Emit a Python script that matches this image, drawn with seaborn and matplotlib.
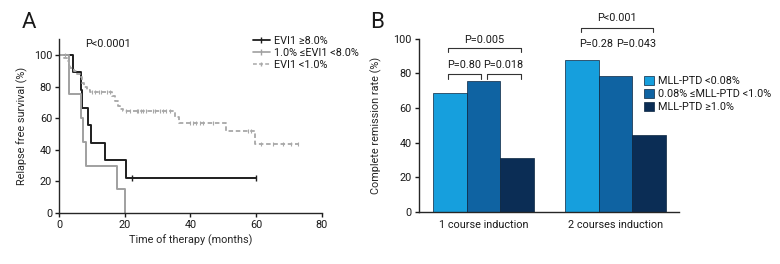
"""
EVI1 무재발 생존 곡선과 MLL-PTD 관해율 막대그래프
"""

import numpy as np
import pandas as pd
import matplotlib
matplotlib.use('Agg')
import matplotlib.pyplot as plt
from matplotlib.lines import Line2D
import seaborn as sns

sns.set_style('ticks')
plt.rcParams['font.family'] = ['Roboto', 'DejaVu Sans']
plt.rcParams['axes.linewidth'] = 1.0
plt.rcParams['text.color'] = '#1a1a1a'
plt.rcParams['xtick.color'] = '#1a1a1a'
plt.rcParams['ytick.color'] = '#1a1a1a'

# Panel A: Kaplan-Meier step data (months, %)
high_t = [0, 4.4, 6.8, 7.1, 8.9, 9.9, 13.9, 20.5, 60]
high_s = [100, 88.9, 77.8, 66.7, 55.6, 44.4, 33.3, 22.2, 22.2]
high_cens_t = [22.1, 60]
high_cens_s = [22.2, 22.2]

mid_t = [0, 3.2, 6.8, 7.4, 8.1, 17.7, 20.2]
mid_s = [100, 75, 60, 45, 30, 15, 0]

low_t = [0, 1.5, 2.5, 3.0, 3.5, 4.5, 5.5, 6.5, 7.0, 7.5, 8.5, 9.5, 16.2, 17.0,
         17.9, 18.7, 19.5, 35.2, 36.6, 50.9, 59.8, 73.0]
low_s = [100, 98, 96, 94, 92, 90, 88, 86, 82, 80, 78, 76.8, 74, 71,
         67.8, 65.9, 64.4, 61, 56.8, 51.6, 43.8, 43.8]
low_cens_t = [1.8, 10.1, 11.1, 12.3, 12.9, 14.7, 15.5, 20.5, 21.5, 23.6, 24.1, 25.1,
              25.6, 26.6, 28.7, 29.2, 30.7, 31.7, 32.7, 33.8, 39.8, 40.8, 41.8,
              42.8, 43.8, 46.9, 57.5, 58.5, 61.6, 65.1, 68.2, 70.7, 72.9]
low_cens_s = [100, 76.8, 76.8, 76.8, 76.8, 76.8, 76.8, 64.4, 64.4, 64.4, 64.4, 64.4,
              64.4, 64.4, 64.4, 64.4, 64.4, 64.4, 64.4, 64.4, 56.8, 56.8, 56.8,
              56.8, 56.8, 56.8, 51.6, 51.6, 43.8, 43.8, 43.8, 43.8, 43.8]

km_labels = ['EVI1 ≥8.0%', '1.0% ≤EVI1 <8.0%', 'EVI1 <1.0%']

# Panel B: complete remission rate (%)
courses = ['1 course induction', '2 courses induction']
ptd_levels = ['MLL-PTD <0.08%', '0.08% ≤MLL-PTD <1.0%', 'MLL-PTD ≥1.0%']
cr_low = [68.5, 87.9]
cr_mid = [75.4, 78.8]
cr_high = [31.2, 44.6]

bar_colors = ['#169fdd', '#0f63a2', '#0b2d55']

fig = plt.figure(figsize=(7.8, 2.64), dpi=100)
axA = fig.add_axes([0.0756, 0.193, 0.337, 0.659])
axB = fig.add_axes([0.537, 0.197, 0.3335, 0.656])

FS = 7.8

# ---------- Panel A ----------
sns.lineplot(x=high_t, y=high_s, drawstyle='steps-post', estimator=None,
             color='#1e1e1e', lw=1.4, ax=axA)
sns.lineplot(x=mid_t, y=mid_s, drawstyle='steps-post', estimator=None,
             color='#a0a0a0', lw=1.4, ax=axA)
sns.lineplot(x=low_t, y=low_s, drawstyle='steps-post', estimator=None,
             color='#a8a8a8', lw=1.3, ax=axA)
axA.lines[-1].set_dashes([2.5, 1.5])
axA.plot(high_cens_t, high_cens_s, ls='none', marker='|', ms=4, mew=1.0, color='#1e1e1e')
axA.plot(low_cens_t, low_cens_s, ls='none', marker='|', ms=3, mew=0.8, color='#a8a8a8')

axA.set_xlim(0, 80)
axA.set_ylim(0, 110)
axA.set_xticks([0, 20, 40, 60, 80])
axA.set_yticks([0, 20, 40, 60, 80, 100])
axA.tick_params(labelsize=FS, length=3, width=1, pad=2)
axA.set_xlabel('Time of therapy (months)', fontsize=FS, labelpad=3)
axA.set_ylabel('Relapse free survival (%)', fontsize=FS, labelpad=4)
axA.text(7.9, 107, 'P<0.0001', fontsize=FS, va='center', ha='left')
sns.despine(ax=axA)

handles = [
    Line2D([], [], color='#1e1e1e', lw=1.3, marker='|', ms=4),
    Line2D([], [], color='#a0a0a0', lw=1.2, marker='|', ms=4),
    Line2D([], [], color='#a8a8a8', lw=1.1, ls=(0, (2.5, 1.5)), marker='|', ms=3),
]
axA.legend(handles, km_labels, fontsize=FS, frameon=False, loc='upper left',
           bbox_to_anchor=(0.72, 1.045), handlelength=1.6, handletextpad=0.4,
           labelspacing=0.2, borderaxespad=0)

# ---------- Panel B ----------
df = pd.DataFrame({
    'course': courses * 3,
    'level': [ptd_levels[0]] * 2 + [ptd_levels[1]] * 2 + [ptd_levels[2]] * 2,
    'rate': cr_low + cr_mid + cr_high,
})
sns.barplot(data=df, x='course', y='rate', hue='level', hue_order=ptd_levels,
            order=courses, palette=bar_colors, width=0.76, saturation=1,
            edgecolor='#0b2540', linewidth=0.5, ax=axB)
axB.set_xlim(-0.49, 1.48)
axB.set_ylim(0, 100)
axB.set_yticks([0, 20, 40, 60, 80, 100])
axB.tick_params(axis='y', labelsize=FS, length=3, width=1, pad=2)
axB.tick_params(axis='x', labelsize=FS, length=0, pad=6)
axB.set_xlabel('')
axB.set_ylabel('Complete remission rate (%)', fontsize=FS, labelpad=8)
sns.despine(ax=axB)
axB.legend(fontsize=FS, frameon=False, loc='upper left', bbox_to_anchor=(0.85, 0.81),
           handlelength=0.9, handleheight=0.9, handletextpad=0.4,
           labelspacing=0.25, borderaxespad=0)


def bracket(ax, x1, x2, y, h, text, ty):
    ax.plot([x1, x1, x2, x2], [y - h, y, y, y - h], color='#333333', lw=0.8,
            clip_on=False)
    ax.text((x1 + x2) / 2, ty, text, ha='center', va='center', fontsize=FS)


bracket(axB, -0.273, 0.28, 94.8, 2.5, 'P=0.005', 99.6)
bracket(axB, -0.273, -0.023, 79.8, 2.8, 'P=0.80', 84.6)
bracket(axB, 0.023, 0.28, 79.8, 2.8, 'P=0.018', 84.6)
bracket(axB, 0.735, 1.28, 106.4, 2.5, 'P<0.001', 112)
axB.text(0.856, 97, 'P=0.28', ha='center', va='center', fontsize=FS)
axB.text(1.159, 97, 'P=0.043', ha='center', va='center', fontsize=FS)

fig.text(0.037, 0.915, 'A', fontsize=16, ha='center', va='center')
fig.text(0.484, 0.915, 'B', fontsize=16, ha='center', va='center')

fig.savefig('out.png', dpi=100)
